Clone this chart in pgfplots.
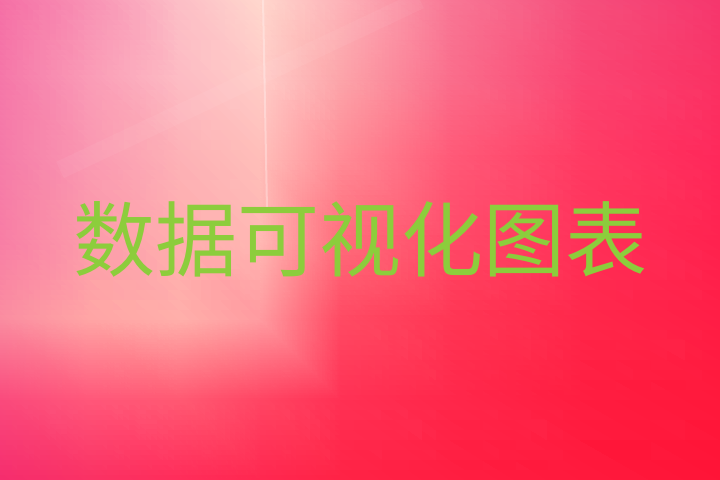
\documentclass[border=0pt]{standalone}
\usepackage{pgfplots}
\pgfplotsset{compat=1.18}
\usepackage{pgfplotstable}
\usepackage{fontspec}
\newfontfamily\cjk{Noto Sans CJK SC}
\definecolor{textgreen}{RGB}{140,205,60}
\pgfplotstableread{
x y c
0 480 rgb255=245,110,165
90 480 rgb255=248,145,180
180 480 rgb255=252,190,198
260 480 rgb255=255,215,205
340 480 rgb255=253,180,185
450 480 rgb255=248,120,150
580 480 rgb255=245,80,125
720 480 rgb255=245,55,110
0 400 rgb255=245,118,168
90 400 rgb255=250,155,182
180 400 rgb255=253,188,196
260 400 rgb255=255,205,200
340 400 rgb255=252,165,170
450 400 rgb255=250,110,140
580 400 rgb255=250,70,115
720 400 rgb255=250,50,100
0 320 rgb255=245,122,168
90 320 rgb255=250,152,177
180 320 rgb255=253,177,182
260 320 rgb255=255,190,185
340 320 rgb255=255,140,150
450 320 rgb255=255,90,120
580 320 rgb255=255,60,100
720 320 rgb255=255,40,90
0 240 rgb255=248,125,165
90 240 rgb255=252,155,170
180 240 rgb255=255,175,175
260 240 rgb255=255,185,180
340 240 rgb255=255,110,125
450 240 rgb255=255,75,105
580 240 rgb255=255,50,90
720 240 rgb255=255,35,80
0 160 rgb255=250,140,160
90 160 rgb255=255,165,165
180 160 rgb255=255,175,170
260 160 rgb255=255,155,160
340 160 rgb255=255,75,100
450 160 rgb255=255,55,85
580 160 rgb255=255,40,75
720 160 rgb255=255,30,70
0 80 rgb255=250,75,125
90 80 rgb255=255,88,122
180 80 rgb255=255,90,115
260 80 rgb255=255,70,100
340 80 rgb255=255,50,85
450 80 rgb255=255,40,75
580 80 rgb255=255,30,65
720 80 rgb255=255,25,60
0 0 rgb255=245,45,110
90 0 rgb255=250,50,100
180 0 rgb255=255,45,90
260 0 rgb255=255,40,80
340 0 rgb255=255,35,70
450 0 rgb255=255,30,65
580 0 rgb255=255,25,60
720 0 rgb255=255,20,55
}\bgcolors
\begin{document}
\begin{tikzpicture}
\begin{axis}[
  width=720bp, height=480bp, scale only axis,
  hide axis, view={0}{90},
  xmin=0, xmax=720, ymin=0, ymax=480, zmin=-1, zmax=1,
]
\addplot3[surf, shader=interp, mesh/color input=explicit,
  point meta=explicit symbolic, mesh/cols=8, mesh/rows=7]
  table[x=x, y=y, z expr=0, meta=c] {\bgcolors};
\draw[white, opacity=0.3, line width=2bp] (axis cs:263,480) -- (axis cs:267,270);
\draw[white, opacity=0.05, line width=18bp] (axis cs:60,310) -- (axis cs:420,480);
\node[text=textgreen, font=\cjk\fontsize{82bp}{82bp}\selectfont, anchor=base, inner sep=0pt]
  at (axis cs:360,209) {数据可视化图表};
\end{axis}
\end{tikzpicture}
\end{document}
